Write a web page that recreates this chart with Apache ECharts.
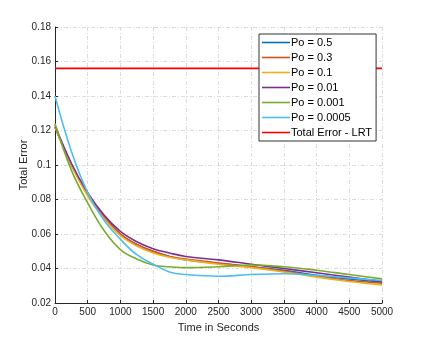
<!DOCTYPE html>
<html>
<head>
<meta charset="utf-8">
<script src="https://cdn.jsdelivr.net/npm/echarts@6/dist/echarts.min.js"></script>
<style>
  html, body { margin: 0; padding: 0; background: #fff; }
  #chart { width: 423px; height: 341px; }
</style>
</head>
<body>
<div id="chart"></div>
<script>
// time samples (seconds)
var times = [0, 250, 500, 750, 1000, 1250, 1500, 1750, 2000, 2500, 3000, 3500, 4000, 4500, 5000]

var po05 = [0.122, 0.100, 0.083, 0.070, 0.060, 0.054, 0.050, 0.047, 0.045, 0.043, 0.041, 0.039, 0.036, 0.034, 0.032]
var po03 = [0.122, 0.100, 0.083, 0.070, 0.060, 0.054, 0.050, 0.047, 0.0455, 0.0432, 0.041, 0.0385, 0.0355, 0.033, 0.0315]
var po01 = [0.122, 0.100, 0.082, 0.069, 0.059, 0.053, 0.049, 0.0465, 0.045, 0.0425, 0.0405, 0.038, 0.035, 0.0325, 0.0305]
var po001 = [0.123, 0.101, 0.084, 0.071, 0.0615, 0.0555, 0.0515, 0.049, 0.047, 0.045, 0.0425, 0.040, 0.0375, 0.035, 0.0325]
var po0001 = [0.124, 0.097, 0.078, 0.062, 0.051, 0.0455, 0.042, 0.041, 0.0405, 0.041, 0.042, 0.041, 0.039, 0.0365, 0.034]
var po00005 = [0.140, 0.108, 0.084, 0.068, 0.057, 0.048, 0.0425, 0.038, 0.0365, 0.0355, 0.0365, 0.037, 0.036, 0.0345, 0.033]

var lrtTimes = [0, 5000]
var lrtError = [0.156, 0.156]

var names = ['Po = 0.5', 'Po = 0.3', 'Po = 0.1', 'Po = 0.01', 'Po = 0.001', 'Po = 0.0005', 'Total Error - LRT']
var colors = ['#0072BD', '#D95319', '#EDB120', '#7E2F8E', '#77AC30', '#4DBEEE', '#FF0000']

function pairs(xs, ys) {
  return xs.map(function (x, i) { return [x, ys[i]] })
}

var curves = [po05, po03, po01, po001, po0001, po00005]

var series = curves.map(function (ys, i) {
  return {
    name: names[i],
    type: 'line',
    smooth: 0.4,
    symbol: 'none',
    data: pairs(times, ys),
    lineStyle: { color: colors[i], width: 1.6 },
    itemStyle: { color: colors[i] }
  }
})
series.push({
  name: names[6],
  type: 'line',
  symbol: 'none',
  data: pairs(lrtTimes, lrtError),
  lineStyle: { color: colors[6], width: 1.6 },
  itemStyle: { color: colors[6] }
})

var font = 'Liberation Sans, Arial, sans-serif'
var gridLine = { show: true, lineStyle: { color: '#dcdcdc', type: [4, 2, 1, 2], width: 1 } }

var chart = echarts.init(document.getElementById('chart'))
chart.setOption({
  animation: false,
  textStyle: { fontFamily: font },
  grid: { left: 55, right: 41, top: 27, bottom: 38 },
  legend: {
    orient: 'vertical',
    left: 259,
    top: 34,
    data: names,
    backgroundColor: '#fff',
    borderColor: '#333',
    borderWidth: 1,
    padding: [3, 4, 3, 3],
    itemGap: 4,
    itemWidth: 28,
    itemHeight: 10,
    icon: 'path://M0,4.2 L28,4.2 L28,5.8 L0,5.8 Z',
    textStyle: { fontSize: 11, color: '#000', padding: [0, 0, 0, -4] }
  },
  xAxis: {
    type: 'value',
    min: 0,
    max: 5000,
    interval: 500,
    name: 'Time in Seconds',
    nameLocation: 'middle',
    nameGap: 19,
    nameMoveOverlap: false,
    nameTextStyle: { fontSize: 11, color: '#262626' },
    axisLine: { show: true, onZero: false, lineStyle: { color: '#262626', width: 1 } },
    axisTick: { show: true, inside: true, length: 3, lineStyle: { color: '#262626' } },
    axisLabel: {
      fontSize: 10, color: '#262626', margin: 4,
      formatter: function (v) { return String(v) }
    },
    splitLine: gridLine
  },
  yAxis: {
    type: 'value',
    min: 0.02,
    max: 0.18,
    interval: 0.02,
    name: 'Total Error',
    nameLocation: 'middle',
    nameGap: 26,
    nameMoveOverlap: false,
    nameTextStyle: { fontSize: 11, color: '#262626' },
    axisLine: { show: true, onZero: false, lineStyle: { color: '#262626', width: 1 } },
    axisTick: { show: true, inside: true, length: 3, lineStyle: { color: '#262626' } },
    axisLabel: {
      fontSize: 10, color: '#262626', margin: 4,
      formatter: function (v) { return String(+v.toFixed(2)) }
    },
    splitLine: gridLine
  },
  series: series
})
</script>
</body>
</html>
